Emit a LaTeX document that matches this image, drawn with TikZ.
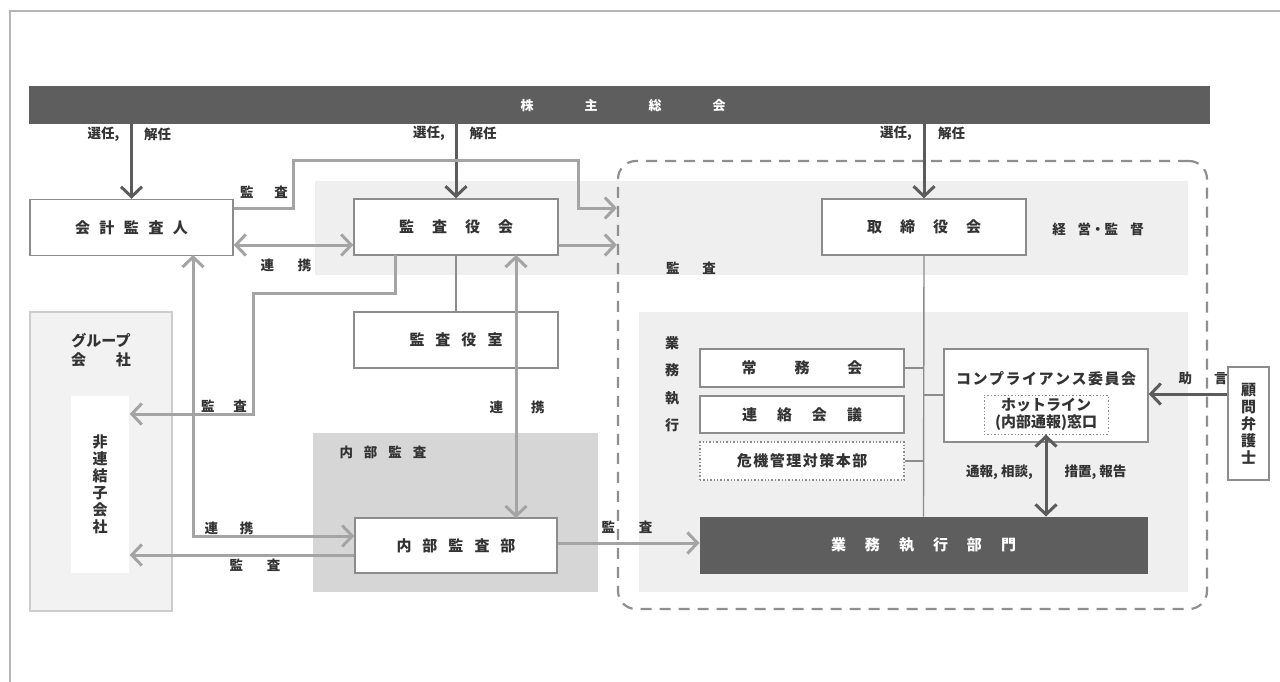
\documentclass[tikz,border=0pt]{standalone}
\usepackage{fontspec}
\setmainfont{Noto Sans CJK JP}
\usetikzlibrary{arrows.meta}
\definecolor{darkc}{HTML}{5C5C5C}
\definecolor{barc}{HTML}{5E5E5E}
\definecolor{litec}{HTML}{A4A4A4}
\definecolor{boxc}{HTML}{8C8C8C}
\definecolor{bandc}{HTML}{EFEFEF}
\definecolor{panelc}{HTML}{D6D6D6}
\definecolor{grpc}{HTML}{F2F2F2}
\definecolor{grpb}{HTML}{CDCDCD}
\definecolor{txtc}{HTML}{333333}
\definecolor{framec}{HTML}{B5B5B5}
\definecolor{dashc}{HTML}{8F8F8F}
\newcommand{\gp}[1]{\hspace{#1pt}}
\newcommand{\bxf}{\fontsize{15}{18}\selectfont\bfseries}
\newcommand{\lbf}{\fontsize{13.5}{16}\selectfont\bfseries}
\begin{document}
\begin{tikzpicture}[x=1pt,y=-1pt,
  box/.style={draw=boxc, line width=1.4pt, fill=white, inner sep=0pt, text=txtc, font=\bxf},
  darkbox/.style={draw=barc, line width=1pt, fill=barc, inner sep=0pt, text=white, font=\bxf},
  dotbox/.style={box, dotted, line width=1.2pt},
  lbl/.style={inner sep=0pt, text=txtc, font=\lbf},
  lite/.style={draw=litec, line width=3pt},
  darkarr/.style={draw=darkc, line width=3pt},
  thin/.style={draw=boxc, line width=1.4pt},
  tip/.style={arrows={-Straight Barb[length=10pt,width=21pt]}},
  tips/.style={arrows={Straight Barb[length=10pt,width=21pt]-Straight Barb[length=10pt,width=21pt]}},
  dashbox/.style={draw=dashc, line width=2.2pt, dash pattern=on 11pt off 8pt, rounded corners=18pt, inner sep=0pt}
]
\useasboundingbox (0,0) rectangle (1280,682);
\fill[white] (0,0) rectangle (1280,682);
% outer frame
\draw[framec, line width=1.5pt] (10,682) -- (10,11) -- (1280,11);

% background panels
\fill[bandc] (315,181) rectangle (1188,275);
\fill[bandc] (639,312) rectangle (1188,592);
\fill[panelc] (313,433) rectangle (598,592);
\draw[grpb, fill=grpc, line width=1.2pt] (30,312) rectangle (172,611);

% dashed scope
\node[dashbox, minimum width=589pt, minimum height=448pt] (scope) at (912.5,385) {};

% top bar
\node[darkbox, minimum width=1180pt, minimum height=37pt, font=\fontsize{13}{16}\selectfont\bfseries] (bar) at (619,105.5) {\gp{8}株\gp{51}主\gp{51}総\gp{51}会};

% boxes
\node[box, minimum width=203pt, minimum height=56pt] (kaikei) at (131.5,227.5) {会\gp{9.5}計\gp{9.5}監\gp{9.5}査\gp{9.5}人};
\node[box, minimum width=204pt, minimum height=56pt] (kansayaku) at (456,227) {監\gp{18}査\gp{18}役\gp{18}会};
\node[box, minimum width=204pt, minimum height=56pt] (torishimari) at (924,227) {取\gp{18}締\gp{18}役\gp{18}会};
\node[box, minimum width=204pt, minimum height=56pt] (shitsu) at (456,340) {監\gp{11}査\gp{11}役\gp{11}室};
\node[box, minimum width=202pt, minimum height=55pt] (naibu) at (456,545.5) {内\gp{11}部\gp{11}監\gp{11}査\gp{11}部};
\node[darkbox, minimum width=447pt, minimum height=56pt] (gyomu) at (923.5,545) {業\gp{19}務\gp{19}執\gp{19}行\gp{19}部\gp{19}門};
\node[box, minimum width=204pt, minimum height=38pt] (jomu) at (802,368) {常\gp{38}務\gp{38}会};
\node[box, minimum width=204pt, minimum height=37pt] (renraku) at (802,414.5) {連\gp{20}絡\gp{20}会\gp{20}議};
\node[dotbox, minimum width=204pt, minimum height=38pt] (kiki) at (802,461) {危\gp{1.5}機\gp{1.5}管\gp{1.5}理\gp{1.5}対\gp{1.5}策\gp{1.5}本\gp{1.5}部};
\node[box, minimum width=204pt, minimum height=93pt] (comp) at (1046,395.5) {};
\node[lbl, font=\bxf] (comptitle) at (1046,379) {コ\gp{1.5}ン\gp{1.5}プ\gp{1.5}ラ\gp{1.5}イ\gp{1.5}ア\gp{1.5}ン\gp{1.5}ス\gp{1.5}委\gp{1.5}員\gp{1.5}会};
\node[box, dotted, line width=1pt, minimum width=124pt, minimum height=39pt, align=center, font=\fontsize{15}{17}\selectfont\bfseries] (hotline) at (1046,414.5) {ホットライン\\(内部通報)窓口};
\node[box, minimum width=41pt, minimum height=113pt, align=center, font=\fontsize{15}{17}\selectfont\bfseries] (komon) at (1248.5,423.5) {顧\\問\\弁\\護\\士};
\node[box, draw=none, minimum width=58pt, minimum height=177pt, align=center, font=\fontsize{15}{17}\selectfont\bfseries] (hiren) at (100,484.5) {非\\連\\結\\子\\会\\社};

% panel labels
\node[lbl, align=center, font=\fontsize{15}{19}\selectfont\bfseries] (grp) at (101,350) {グループ\\会\gp{30}社};
\node[lbl, font=\fontsize{13.5}{16}\selectfont\bfseries] (naibulbl) at (383,452) {内\gp{11}部\gp{11}監\gp{11}査};
\node[lbl, align=center, font=\fontsize{14}{27.5}\selectfont\bfseries] (gyolbl) at (672,384) {業\\務\\執\\行};
\node[lbl] (keiei) at (1098,229) {経\gp{12}営・監\gp{12}督};
\node[lbl] (kansa5) at (691,268) {監\gp{23}査};

% dark arrows from the bar
\draw[darkarr, tip] (kaikei.north |- bar.south) -- (kaikei.north);
\draw[darkarr, tip] (kansayaku.north |- bar.south) -- (kansayaku.north);
\draw[darkarr, tip] (torishimari.north |- bar.south) -- (torishimari.north);
\node[lbl] (s1a) at (103.5,134) {選任,};
\node[lbl] (s1b) at (157.5,134) {解任};
\node[lbl] (s2a) at (429,133) {選任,};
\node[lbl] (s2b) at (483,133) {解任};
\node[lbl] (s3a) at (896,133) {選任,};
\node[lbl] (s3b) at (951.5,133) {解任};

% light arrows
\draw[lite, tip] (kaikei.east |- 0,208) -- (293,208) -- (293,161) -- (578,161) -- (578,208) -- (scope.west |- 0,208);
\node[lbl] (k1) at (264,192) {監\gp{21}査};
\draw[lite, tip] (kansayaku.east |- 0,245) -- (scope.west |- 0,245);
\draw[lite, tips] (kaikei.east |- 0,245) -- (kansayaku.west |- 0,245);
\node[lbl] (r1) at (286,265) {連\gp{24}携};
\draw[lite, tip] (395,255) -- (395,293) -- (253,293) -- (253,414) -- (hiren.east |- 0,414);
\node[lbl] (k2) at (224,406) {監\gp{19}査};
\draw[lite, tips] (193,255) -- (193,536) -- (naibu.west |- 0,536);
\node[lbl] (r2) at (229,528) {連\gp{22}携};
\draw[lite, tip] (naibu.west |- 0,555) -- (hiren.east |- 0,555);
\node[lbl] (k3) at (255,565) {監\gp{24}査};
\draw[lite, tips] (516,255) -- (516,518);
\node[lbl] (r3) at (517,407) {連\gp{28}携};
\draw[lite, tip] (naibu.east |- 0,543) -- (gyomu.west |- 0,543);
\node[lbl] (k4) at (627,527) {監\gp{24}査};

% thin lines
\draw[thin] (kansayaku.south) -- (shitsu.north);
\draw[thin] (torishimari.south) -- (gyomu.north);
\draw[thin] (jomu.east) -- (torishimari.south |- jomu.east);
\draw[thin] (kiki.east) -- (torishimari.south |- kiki.east);
\draw[thin] (torishimari.south |- 0,395) -- (comp.west |- 0,395);

% dark arrows in execution area
\draw[darkarr, tip] (komon.west |- 0,394) -- (comp.east |- 0,394);
\node[lbl] (jogen) at (1203,378) {助\gp{22}言};
\draw[darkarr, tips] (hotline.south) -- (gyomu.north -| hotline.south);
\node[lbl] (tsuho) at (999.5,472) {通報, 相談,};
\node[lbl] (sochi) at (1095.5,472) {措置, 報告};
\end{tikzpicture}
\end{document}
